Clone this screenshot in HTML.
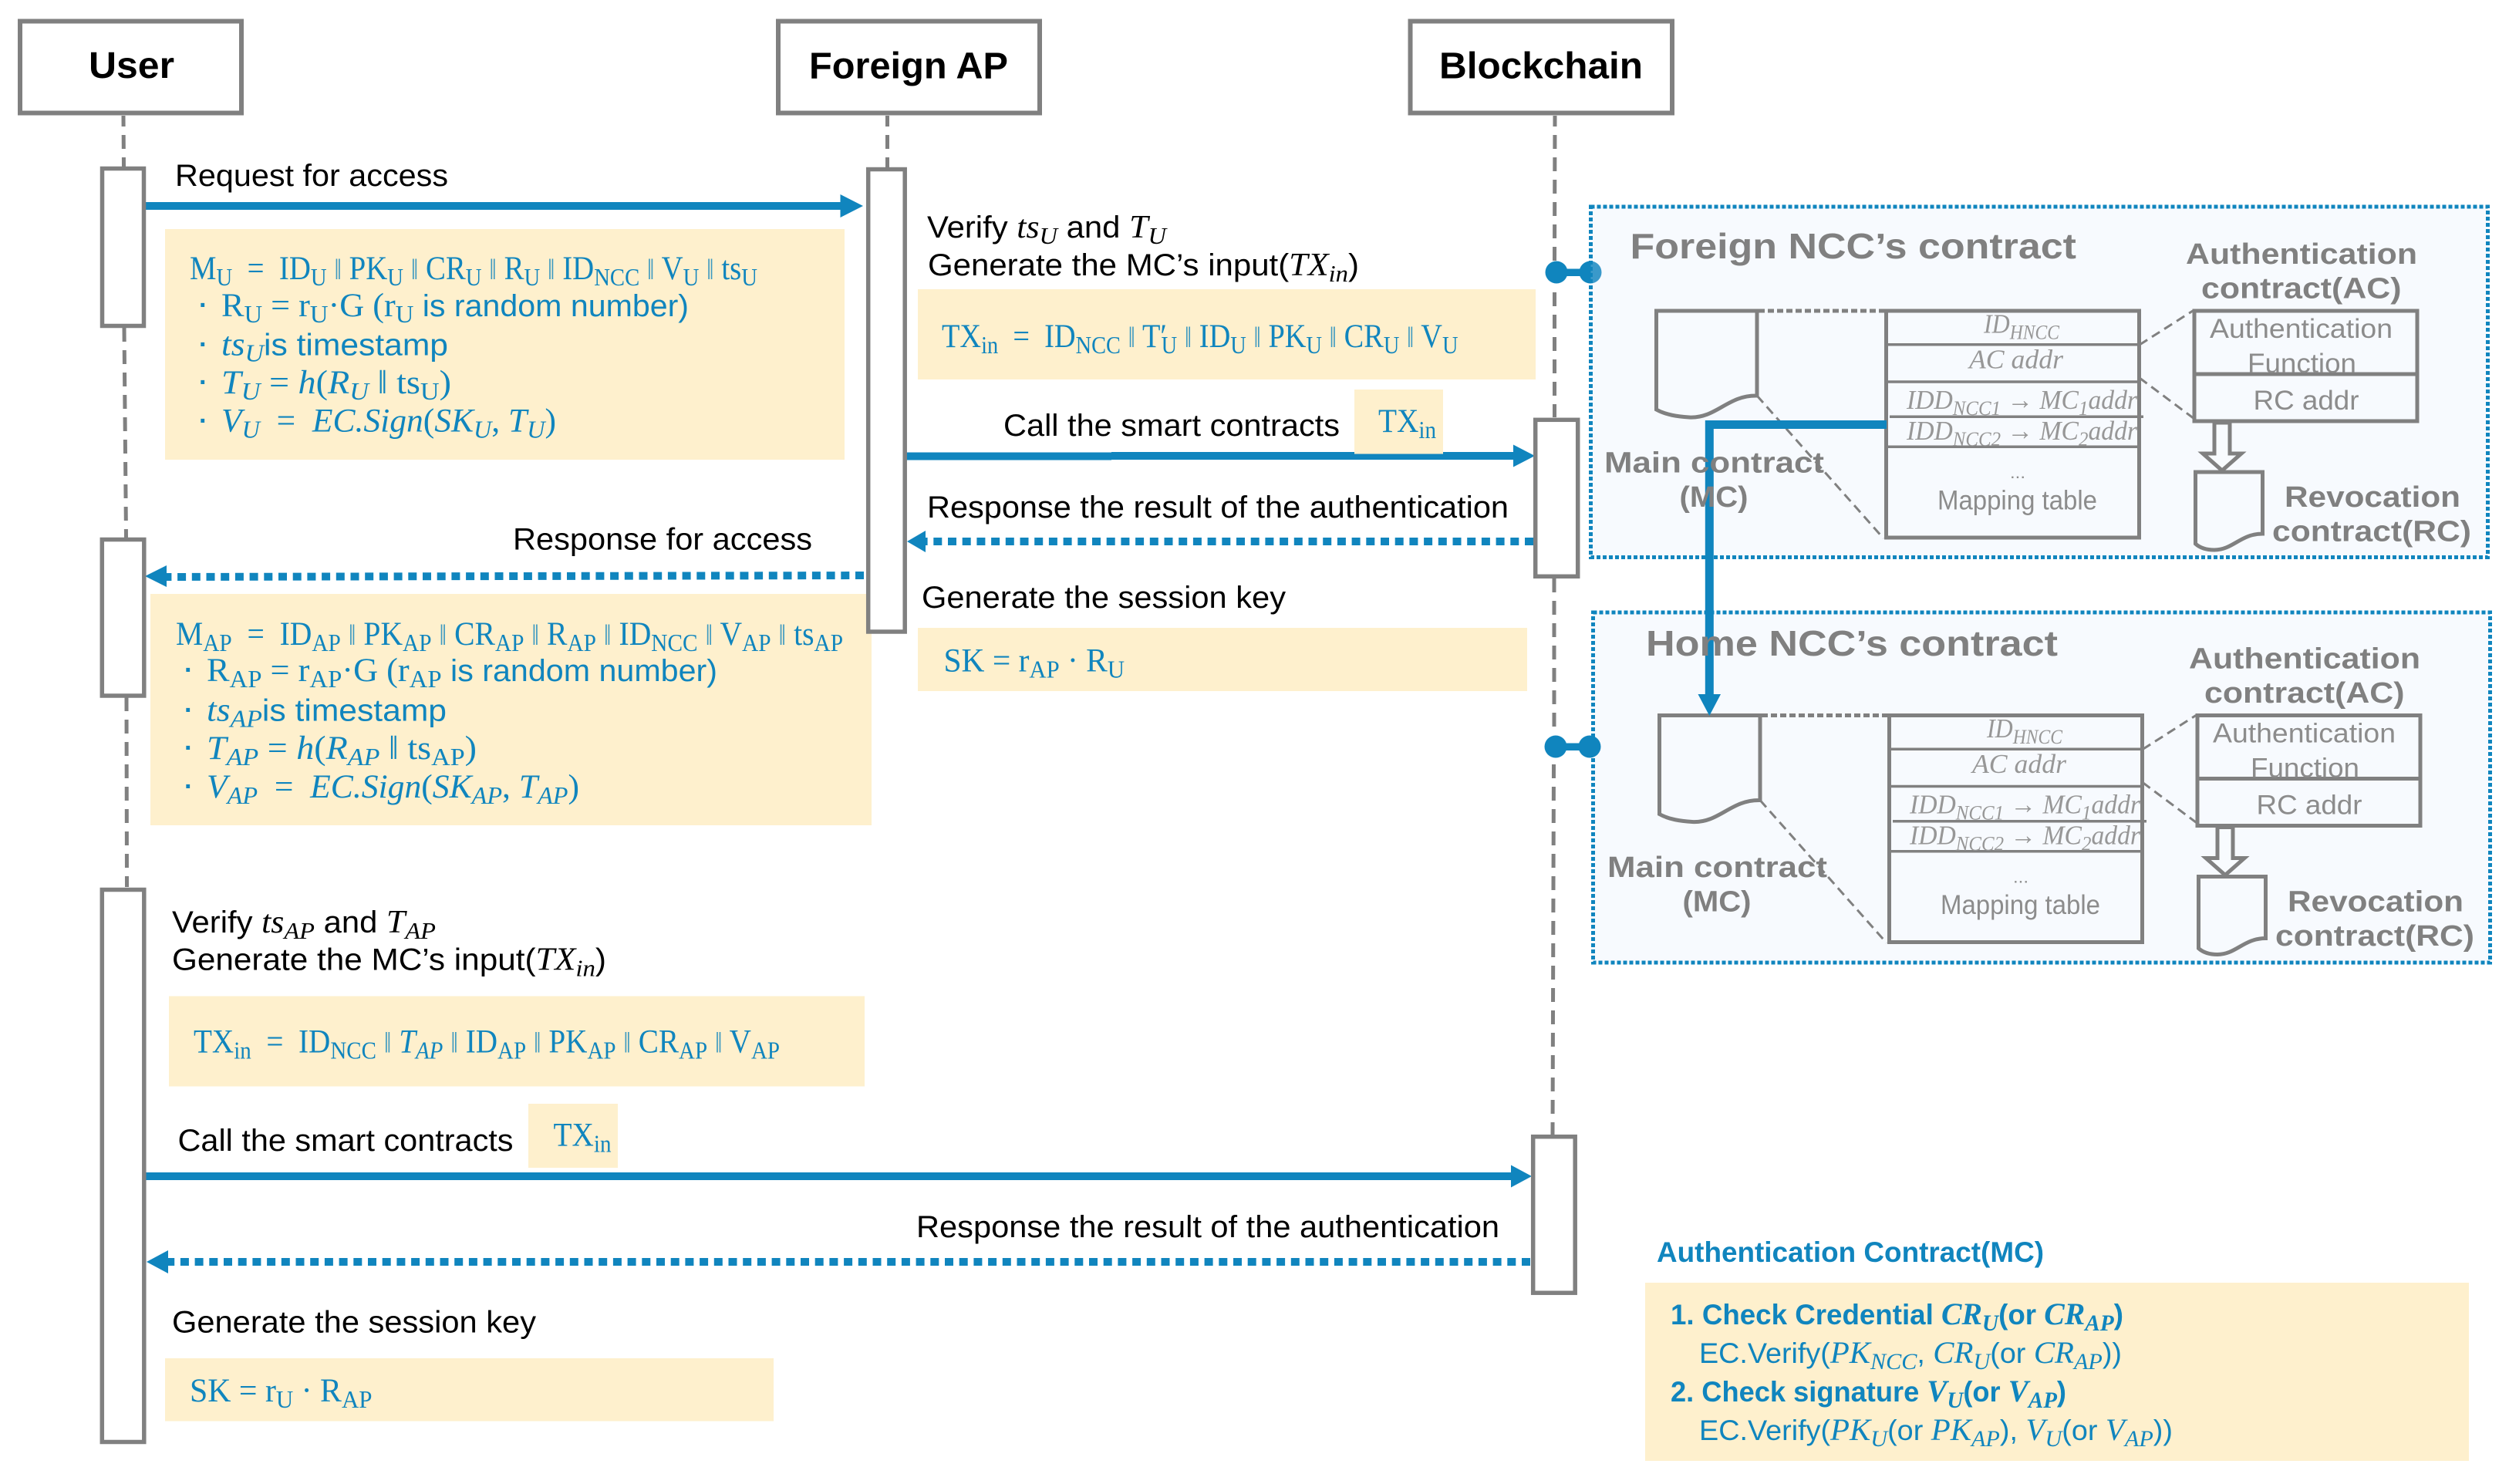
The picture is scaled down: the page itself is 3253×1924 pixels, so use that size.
<!DOCTYPE html>
<html><head><meta charset="utf-8"><style>
html,body{margin:0;padding:0;background:#fff}
svg{display:block}
text{font-family:"Liberation Sans",sans-serif;white-space:pre}
.b{font-size:40px;fill:#000}
.h{font-size:48px;font-weight:bold;fill:#000}
.bm{font-family:"Liberation Serif",serif;font-style:italic;font-size:42px}
.m{font-family:"Liberation Serif",serif;font-size:43px;fill:#1085be}
.a{font-family:"Liberation Sans",sans-serif;font-size:40px}
.s{font-size:.74em;baseline-shift:-8px}
.i{font-style:italic}
.p{font-size:38px;opacity:.8}
.dot{font-size:34px;font-weight:bold;fill:#1085be}
.gt{font-size:46px;font-weight:bold;fill:#808080}
.gb{font-size:38px;font-weight:bold;fill:#808080}
.gn{font-size:35px;fill:#8c8c8c}
.gm{font-family:"Liberation Serif",serif;font-style:italic;font-size:35px;fill:#979797}
.t{font-size:37px;fill:#1085be}
.tb{font-weight:bold}
.tm{font-family:"Liberation Serif",serif;font-style:italic;font-size:40px}
.box{fill:#fff;stroke:#808080;stroke-width:6}
.act{fill:#fff;stroke:#808080;stroke-width:5.5}
.life{stroke:#808080;stroke-width:5;stroke-dasharray:18 11;fill:none}
.y{fill:#fef0cd}
.ar{stroke:#1085be;stroke-width:10;fill:none}
.dt{stroke:#1085be;stroke-width:10;stroke-dasharray:11 7.7;fill:none}
.hd{fill:#1085be}
.sh{fill:none;stroke:#808080;stroke-width:5}
.thin{stroke:#808080;stroke-width:3.5;fill:none}
.ds{stroke:#808080;stroke-width:3;stroke-dasharray:12 7;fill:none}
.ds2{stroke:#808080;stroke-width:5;stroke-dasharray:8 4;fill:none}
</style></head><body>
<svg xmlns="http://www.w3.org/2000/svg" width="3253" height="1924" viewBox="0 0 3253 1924">
<rect width="3253" height="1924" fill="#fff"/>

<!-- lifelines -->
<path class="life" stroke-dashoffset="4" d="M160 150L160.5 216"/>
<path class="life" d="M161 425L163.5 697"/>
<path class="life" d="M164 904L164.5 1150"/>
<path class="life" stroke-dashoffset="4" d="M1150.5 150V217"/>
<path class="life" stroke-dashoffset="4" d="M2016 150L2015.5 338"/>
<path class="life" d="M2015.5 379V541"/>
<path class="life" d="M2015 750V950"/>
<path class="life" d="M2014.5 991L2013 1471"/>

<!-- connector dots, foreign (under container) -->
<rect x="2018" y="348.5" width="44" height="9.5" fill="#1085be"/>
<circle cx="2018" cy="353" r="14.5" fill="#1085be"/>
<circle cx="2062" cy="353" r="14.5" fill="#1085be"/>

<!-- containers -->
<rect x="2062.5" y="268" width="1163" height="454.5" fill="rgb(217,231,250)" fill-opacity=".213"/>
<rect x="2062.5" y="268" width="1163" height="454.5" fill="none" stroke="#1085be" stroke-width="5" stroke-dasharray="5 3"/>
<rect x="2065.5" y="794" width="1163" height="454" fill="rgb(217,231,250)" fill-opacity=".213"/>
<rect x="2065.5" y="794" width="1163" height="454" fill="none" stroke="#1085be" stroke-width="5" stroke-dasharray="5 3"/>

<!-- connector dots, home (over container) -->
<rect x="2017" y="963.5" width="44" height="9.5" fill="#1085be"/>
<circle cx="2017" cy="968" r="14.5" fill="#1085be"/>
<circle cx="2061" cy="968" r="14.5" fill="#1085be"/>

<!-- header boxes -->
<rect class="box" x="26" y="27.5" width="287" height="119"/>
<rect class="box" x="1009" y="27.5" width="339" height="119"/>
<rect class="box" x="1828.5" y="27.5" width="339.5" height="119"/>
<text class="h" x="115" y="101" textLength="111" lengthAdjust="spacingAndGlyphs">User</text>
<text class="h" x="1049" y="101.5" textLength="258" lengthAdjust="spacingAndGlyphs">Foreign AP</text>
<text class="h" x="1866" y="101.5" textLength="264" lengthAdjust="spacingAndGlyphs">Blockchain</text>

<!-- arrows -->
<path class="ar" d="M189 267H1090"/><polygon class="hd" points="1089.5,252 1119,267 1089.5,282"/>
<path class="ar" d="M1175 591.5H1441M1441 591H1963"/><polygon class="hd" points="1962,576.5 1990,591 1962,605.5"/>
<path class="dt" d="M1988 702H1198"/><polygon class="hd" points="1200,688 1176,702 1200,716"/>
<path class="dt" d="M1120 746L214 748"/><polygon class="hd" points="216,733 188,747 216,761"/>
<path class="ar" d="M189 1525H1960"/><polygon class="hd" points="1959,1510.5 1986,1525 1959,1539.5"/>
<path class="dt" d="M1984 1636H216"/><polygon class="hd" points="218,1621 190,1636 218,1651"/>

<!-- yellow boxes -->
<rect class="y" x="214" y="297" width="881" height="299"/>
<rect class="y" x="195" y="770" width="935" height="300"/>
<rect class="y" x="1190" y="375" width="801" height="117"/>
<rect class="y" x="1756" y="505" width="115" height="83.5"/>
<rect class="y" x="1190" y="814" width="790" height="82"/>
<rect class="y" x="219" y="1291.5" width="902" height="117"/>
<rect class="y" x="685" y="1431" width="116" height="83"/>
<rect class="y" x="214" y="1761" width="789" height="81.5"/>
<rect class="y" x="2133" y="1663" width="1068" height="231"/>

<!-- activations -->
<rect class="act" x="132.5" y="218.5" width="54" height="204"/>
<rect class="act" x="132.3" y="699.5" width="54.5" height="202.5"/>
<rect class="act" x="132.3" y="1153.5" width="54.5" height="716"/>
<rect class="act" x="1125.7" y="219.5" width="47.5" height="599.5"/>
<rect class="act" x="1990.7" y="544.3" width="55" height="203"/>
<rect class="act" x="1987.7" y="1473.7" width="54.5" height="202.5"/>

<!-- black labels -->
<text class="b" x="227" y="241" textLength="354" lengthAdjust="spacingAndGlyphs">Request for access</text>
<text class="b" x="665" y="712.5" textLength="388" lengthAdjust="spacingAndGlyphs">Response for access</text>
<text class="b" x="1202" y="308" textLength="310" lengthAdjust="spacingAndGlyphs">Verify <tspan class="bm">ts<tspan class="s">U</tspan></tspan> and <tspan class="bm">T<tspan class="s">U</tspan></tspan></text>
<text class="b" x="1203" y="357" textLength="559" lengthAdjust="spacingAndGlyphs">Generate the MC’s input(<tspan class="bm">TX<tspan class="s">in</tspan></tspan>)</text>
<text class="b" x="1301" y="565" textLength="436" lengthAdjust="spacingAndGlyphs">Call the smart contracts</text>
<text class="b" x="1202" y="671" textLength="754" lengthAdjust="spacingAndGlyphs">Response the result of the authentication</text>
<text class="b" x="1195" y="788" textLength="472" lengthAdjust="spacingAndGlyphs">Generate the session key</text>
<text class="b" x="223" y="1209" textLength="342" lengthAdjust="spacingAndGlyphs">Verify <tspan class="bm">ts<tspan class="s">AP</tspan></tspan> and <tspan class="bm">T<tspan class="s">AP</tspan></tspan></text>
<text class="b" x="223" y="1257.5" textLength="563" lengthAdjust="spacingAndGlyphs">Generate the MC’s input(<tspan class="bm">TX<tspan class="s">in</tspan></tspan>)</text>
<text class="b" x="230.5" y="1492" textLength="435" lengthAdjust="spacingAndGlyphs">Call the smart contracts</text>
<text class="b" x="1188" y="1604" textLength="756" lengthAdjust="spacingAndGlyphs">Response the result of the authentication</text>
<text class="b" x="223" y="1727.5" textLength="472" lengthAdjust="spacingAndGlyphs">Generate the session key</text>

<!-- user message -->
<text class="m" x="246" y="362" textLength="736" lengthAdjust="spacingAndGlyphs">M<tspan class="s">U</tspan>  =  ID<tspan class="s">U</tspan> <tspan class="p">‖</tspan> PK<tspan class="s">U</tspan> <tspan class="p">‖</tspan> CR<tspan class="s">U</tspan> <tspan class="p">‖</tspan> R<tspan class="s">U</tspan> <tspan class="p">‖</tspan> ID<tspan class="s">NCC</tspan> <tspan class="p">‖</tspan> V<tspan class="s">U</tspan> <tspan class="p">‖</tspan> ts<tspan class="s">U</tspan></text>
<text class="dot" x="258" y="407">·</text>
<text class="m" x="287" y="410" textLength="606" lengthAdjust="spacingAndGlyphs">R<tspan class="s">U</tspan> = r<tspan class="s">U</tspan>·G (r<tspan class="s">U</tspan><tspan class="a"> is random number)</tspan></text>
<text class="dot" x="258" y="458">·</text>
<text class="m" x="287" y="460.5" textLength="294" lengthAdjust="spacingAndGlyphs"><tspan class="i">ts<tspan class="s">U</tspan></tspan><tspan class="a">is timestamp</tspan></text>
<text class="dot" x="258" y="507">·</text>
<text class="m" x="287" y="510" textLength="298" lengthAdjust="spacingAndGlyphs"><tspan class="i">T<tspan class="s">U</tspan></tspan> = <tspan class="i">h</tspan>(<tspan class="i">R<tspan class="s">U</tspan></tspan> ‖ ts<tspan class="s">U</tspan>)</text>
<text class="dot" x="258" y="557">·</text>
<text class="m" x="287" y="559.5" textLength="434" lengthAdjust="spacingAndGlyphs"><tspan class="i">V<tspan class="s">U</tspan></tspan>  =  <tspan class="i">EC.Sign</tspan>(<tspan class="i">SK<tspan class="s">U</tspan></tspan>, <tspan class="i">T<tspan class="s">U</tspan></tspan>)</text>

<!-- AP message -->
<text class="m" x="228" y="836" textLength="865" lengthAdjust="spacingAndGlyphs">M<tspan class="s">AP</tspan>  =  ID<tspan class="s">AP</tspan> <tspan class="p">‖</tspan> PK<tspan class="s">AP</tspan> <tspan class="p">‖</tspan> CR<tspan class="s">AP</tspan> <tspan class="p">‖</tspan> R<tspan class="s">AP</tspan> <tspan class="p">‖</tspan> ID<tspan class="s">NCC</tspan> <tspan class="p">‖</tspan> V<tspan class="s">AP</tspan> <tspan class="p">‖</tspan> ts<tspan class="s">AP</tspan></text>
<text class="dot" x="239" y="880">·</text>
<text class="m" x="268" y="883" textLength="662" lengthAdjust="spacingAndGlyphs">R<tspan class="s">AP</tspan> = r<tspan class="s">AP</tspan>·G (r<tspan class="s">AP</tspan><tspan class="a"> is random number)</tspan></text>
<text class="dot" x="239" y="932">·</text>
<text class="m" x="268" y="934.5" textLength="311" lengthAdjust="spacingAndGlyphs"><tspan class="i">ts<tspan class="s">AP</tspan></tspan><tspan class="a">is timestamp</tspan></text>
<text class="dot" x="239" y="981">·</text>
<text class="m" x="268" y="984" textLength="350" lengthAdjust="spacingAndGlyphs"><tspan class="i">T<tspan class="s">AP</tspan></tspan> = <tspan class="i">h</tspan>(<tspan class="i">R<tspan class="s">AP</tspan></tspan> ‖ ts<tspan class="s">AP</tspan>)</text>
<text class="dot" x="239" y="1031">·</text>
<text class="m" x="268" y="1034" textLength="483" lengthAdjust="spacingAndGlyphs"><tspan class="i">V<tspan class="s">AP</tspan></tspan>  =  <tspan class="i">EC.Sign</tspan>(<tspan class="i">SK<tspan class="s">AP</tspan></tspan>, <tspan class="i">T<tspan class="s">AP</tspan></tspan>)</text>

<!-- TX / SK formulas -->
<text class="m" x="1221" y="450" textLength="669.5" lengthAdjust="spacingAndGlyphs">TX<tspan class="s">in</tspan>  =  ID<tspan class="s">NCC</tspan> <tspan class="p">‖</tspan> T′<tspan class="s" dx="-8">U</tspan> <tspan class="p">‖</tspan> ID<tspan class="s">U</tspan> <tspan class="p">‖</tspan> PK<tspan class="s">U</tspan> <tspan class="p">‖</tspan> CR<tspan class="s">U</tspan> <tspan class="p">‖</tspan> V<tspan class="s">U</tspan></text>
<text class="m" x="1787" y="560" textLength="75" lengthAdjust="spacingAndGlyphs">TX<tspan class="s">in</tspan></text>
<text class="m" x="1223.5" y="870.5" textLength="234.5" lengthAdjust="spacingAndGlyphs">SK = r<tspan class="s">AP</tspan> · R<tspan class="s">U</tspan></text>
<text class="m" x="251" y="1364.5" textLength="760" lengthAdjust="spacingAndGlyphs">TX<tspan class="s">in</tspan>  =  ID<tspan class="s">NCC</tspan> <tspan class="p">‖</tspan> <tspan class="i">T<tspan class="s">AP</tspan></tspan> <tspan class="p">‖</tspan> ID<tspan class="s">AP</tspan> <tspan class="p">‖</tspan> PK<tspan class="s">AP</tspan> <tspan class="p">‖</tspan> CR<tspan class="s">AP</tspan> <tspan class="p">‖</tspan> V<tspan class="s">AP</tspan></text>
<text class="m" x="717.5" y="1485.5" textLength="75" lengthAdjust="spacingAndGlyphs">TX<tspan class="s">in</tspan></text>
<text class="m" x="246" y="1817" textLength="236.5" lengthAdjust="spacingAndGlyphs">SK = r<tspan class="s">U</tspan> · R<tspan class="s">AP</tspan></text>

<!-- Auth contract -->
<text class="t tb" x="2148" y="1636" textLength="502" lengthAdjust="spacingAndGlyphs">Authentication Contract(MC)</text>
<text class="t tb" x="2166" y="1717" textLength="587" lengthAdjust="spacingAndGlyphs">1. Check Credential <tspan class="tm">CR<tspan class="s">U</tspan></tspan>(or <tspan class="tm">CR<tspan class="s">AP</tspan></tspan>)</text>
<text class="t" x="2203" y="1767" textLength="548" lengthAdjust="spacingAndGlyphs">EC.Verify(<tspan class="tm">PK<tspan class="s">NCC</tspan></tspan>, <tspan class="tm">CR<tspan class="s">U</tspan></tspan>(or <tspan class="tm">CR<tspan class="s">AP</tspan></tspan>))</text>
<text class="t tb" x="2166" y="1817" textLength="513" lengthAdjust="spacingAndGlyphs">2. Check signature <tspan class="tm">V<tspan class="s">U</tspan></tspan>(or <tspan class="tm">V<tspan class="s">AP</tspan></tspan>)</text>
<text class="t" x="2203" y="1867" textLength="614" lengthAdjust="spacingAndGlyphs">EC.Verify(<tspan class="tm">PK<tspan class="s">U</tspan></tspan>(or <tspan class="tm">PK<tspan class="s">AP</tspan></tspan>), <tspan class="tm">V<tspan class="s">U</tspan></tspan>(or <tspan class="tm">V<tspan class="s">AP</tspan></tspan>))</text>

<!-- Foreign shapes -->
<g>
<path class="sh" d="M2147.5 403H2278V513C2240 512 2225 543 2190 541C2175 540 2160 538 2147.5 531Z"/>
<path class="ds2" d="M2280 403H2444"/>
<path class="ds" d="M2278 513L2442 698"/>
<rect class="sh" x="2445.5" y="403" width="328" height="294"/>
<path class="thin" d="M2448 446.7H2771M2448 495H2771M2450 540.3H2779M2448 579.3H2771"/>
<path class="ds" d="M2774 447L2843 403M2774 490L2845 543"/>
<rect class="sh" x="2845" y="403" width="289" height="143"/>
<path class="thin" d="M2845 485H3134" style="stroke-width:5"/>
<path class="sh" d="M2871 548H2891V588H2906L2881 610L2856 588H2871Z" style="fill:#f8fbfe"/>
<path class="sh" d="M2846.5 612H2933.5V692C2905 692 2895 713 2871 713C2860 713 2852 710 2846.5 705Z"/>
</g>
<!-- Home shapes -->
<g transform="translate(4,524.5)">
<path class="sh" d="M2147.5 403H2278V513C2240 512 2225 543 2190 541C2175 540 2160 538 2147.5 531Z"/>
<path class="ds2" d="M2280 403H2444"/>
<path class="ds" d="M2278 513L2442 698"/>
<rect class="sh" x="2445.5" y="403" width="328" height="294"/>
<path class="thin" d="M2448 446.7H2771M2448 495H2771M2450 540.3H2779M2448 579.3H2771"/>
<path class="ds" d="M2774 447L2843 403M2774 490L2845 543"/>
<rect class="sh" x="2845" y="403" width="289" height="143"/>
<path class="thin" d="M2845 485H3134" style="stroke-width:5"/>
<path class="sh" d="M2871 548H2891V588H2906L2881 610L2856 588H2871Z" style="fill:#f8fbfe"/>
<path class="sh" d="M2846.5 612H2933.5V692C2905 692 2895 713 2871 713C2860 713 2852 710 2846.5 705Z"/>
</g>

<!-- blue link between contracts -->
<path d="M2446 550.5H2216.3V902" fill="none" stroke="#1085be" stroke-width="11"/>
<polygon class="hd" points="2201.5,900 2231,900 2216.3,928"/>

<!-- Foreign labels -->
<text class="gt" x="2113.5" y="335" textLength="578.5" lengthAdjust="spacingAndGlyphs">Foreign NCC’s contract</text>
<text class="gb" x="2834" y="342" textLength="300" lengthAdjust="spacingAndGlyphs">Authentication</text>
<text class="gb" x="2854" y="386.5" textLength="259.5" lengthAdjust="spacingAndGlyphs">contract(AC)</text>
<text class="gb" x="2080" y="612.5" textLength="285" lengthAdjust="spacingAndGlyphs">Main contract</text>
<text class="gb" x="2177.5" y="657" textLength="89" lengthAdjust="spacingAndGlyphs">(MC)</text>
<text class="gb" x="2962" y="657" textLength="228" lengthAdjust="spacingAndGlyphs">Revocation</text>
<text class="gb" x="2946" y="701.5" textLength="258" lengthAdjust="spacingAndGlyphs">contract(RC)</text>
<text class="gn" x="2865" y="438" textLength="237" lengthAdjust="spacingAndGlyphs">Authentication</text>
<text class="gn" x="2914" y="483" textLength="141" lengthAdjust="spacingAndGlyphs">Function</text>
<text class="gn" x="2921.5" y="531" textLength="137" lengthAdjust="spacingAndGlyphs">RC addr</text>
<text class="gm" x="2572" y="431.5" textLength="98" lengthAdjust="spacingAndGlyphs">ID<tspan class="s">HNCC</tspan></text>
<text class="gm" x="2553" y="477.5" textLength="122" lengthAdjust="spacingAndGlyphs">AC addr</text>
<text class="gm" x="2472" y="530" textLength="299" lengthAdjust="spacingAndGlyphs">IDD<tspan class="s">NCC1</tspan> → MC<tspan class="s">1</tspan>addr</text>
<text class="gm" x="2472" y="570" textLength="299" lengthAdjust="spacingAndGlyphs">IDD<tspan class="s">NCC2</tspan> → MC<tspan class="s">2</tspan>addr</text>
<text class="gn" x="2606" y="620" textLength="20" lengthAdjust="spacingAndGlyphs" style="font-size:22px">...</text>
<text class="gn" x="2512" y="660.5" textLength="207" lengthAdjust="spacingAndGlyphs">Mapping table</text>

<!-- Home labels -->
<text class="gt" x="2134" y="850" textLength="534" lengthAdjust="spacingAndGlyphs">Home NCC’s contract</text>
<g transform="translate(4,524.5)">
<text class="gb" x="2834" y="342" textLength="300" lengthAdjust="spacingAndGlyphs">Authentication</text>
<text class="gb" x="2854" y="386.5" textLength="259.5" lengthAdjust="spacingAndGlyphs">contract(AC)</text>
<text class="gb" x="2080" y="612.5" textLength="285" lengthAdjust="spacingAndGlyphs">Main contract</text>
<text class="gb" x="2177.5" y="657" textLength="89" lengthAdjust="spacingAndGlyphs">(MC)</text>
<text class="gb" x="2962" y="657" textLength="228" lengthAdjust="spacingAndGlyphs">Revocation</text>
<text class="gb" x="2946" y="701.5" textLength="258" lengthAdjust="spacingAndGlyphs">contract(RC)</text>
<text class="gn" x="2865" y="438" textLength="237" lengthAdjust="spacingAndGlyphs">Authentication</text>
<text class="gn" x="2914" y="483" textLength="141" lengthAdjust="spacingAndGlyphs">Function</text>
<text class="gn" x="2921.5" y="531" textLength="137" lengthAdjust="spacingAndGlyphs">RC addr</text>
<text class="gm" x="2572" y="431.5" textLength="98" lengthAdjust="spacingAndGlyphs">ID<tspan class="s">HNCC</tspan></text>
<text class="gm" x="2553" y="477.5" textLength="122" lengthAdjust="spacingAndGlyphs">AC addr</text>
<text class="gm" x="2472" y="530" textLength="299" lengthAdjust="spacingAndGlyphs">IDD<tspan class="s">NCC1</tspan> → MC<tspan class="s">1</tspan>addr</text>
<text class="gm" x="2472" y="570" textLength="299" lengthAdjust="spacingAndGlyphs">IDD<tspan class="s">NCC2</tspan> → MC<tspan class="s">2</tspan>addr</text>
<text class="gn" x="2606" y="620" textLength="20" lengthAdjust="spacingAndGlyphs" style="font-size:22px">...</text>
<text class="gn" x="2512" y="660.5" textLength="207" lengthAdjust="spacingAndGlyphs">Mapping table</text>
</g>
</svg>
</body></html>
